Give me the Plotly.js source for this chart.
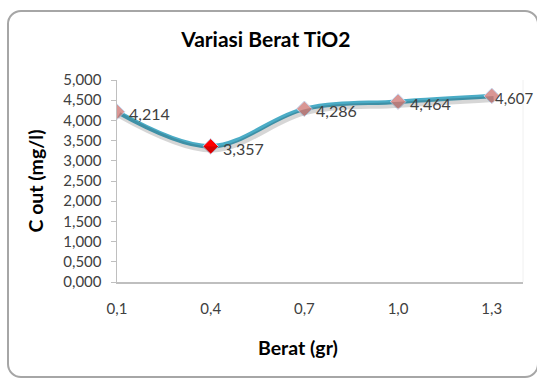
<!DOCTYPE html>
<html>
<head>
<meta charset="utf-8">
<script src="https://cdn.plot.ly/plotly-3.0.1.min.js"></script>
<style>
  html, body { margin: 0; padding: 0; background: #ffffff; }
  #wrap { position: relative; width: 537px; height: 380px; overflow: hidden; }
  #frame { position: absolute; left: 7px; top: 10px; width: 528px; height: 364px;
           border: 2px solid #a6a6a6; border-radius: 14px; }
  #chart { position: absolute; left: 0; top: 0; width: 537px; height: 380px; }
</style>
</head>
<body>
<div id="wrap">
  <div id="frame"></div>
  <div id="chart"></div>
</div>
<script>
// Data
const berat = [0.1, 0.4, 0.7, 1.0, 1.3];
const cout = [4.214, 3.357, 4.286, 4.464, 4.607];
const labels = ["4,214", "3,357", "4,286", "4,464", "4,607"];
const xTicks = [0.1, 0.4, 0.7, 1.0, 1.3];
const xTickText = ["0,1", "0,4", "0,7", "1,0", "1,3"];
const yTicks = [0, 0.5, 1, 1.5, 2, 2.5, 3, 3.5, 4, 4.5, 5];
const yTickText = ["0,000", "0,500", "1,000", "1,500", "2,000", "2,500", "3,000", "3,500", "4,000", "4,500", "5,000"];

const minIdx = cout.indexOf(Math.min(...cout));
const markerColors = cout.map((v, i) => i === minIdx ? "#ff0000" : "#d99694");

const font = "Lato, 'Open Sans', sans-serif";

const shadow = {
  x: berat, y: cout, xaxis: "x2", yaxis: "y2",
  mode: "lines", line: {shape: "spline", smoothing: 1, color: "rgba(0,0,0,0.16)", width: 6},
  hoverinfo: "skip", showlegend: false
};
const main = {
  x: berat, y: cout, mode: "lines+markers",
  line: {shape: "spline", smoothing: 1, color: "#4bacc6", width: 4.5},
  marker: {symbol: "diamond", size: 12, color: markerColors, line: {color: "#c6d9f1", width: 1}},
  showlegend: false
};

const lastIdx = berat.length - 1;
const labelAnns = berat.map((x, i) => ({
  x: x, y: cout[i], xref: "x", yref: "y", text: labels[i], showarrow: false,
  xanchor: "left", yanchor: "middle", xshift: i === lastIdx ? 2 : 11, yshift: -2,
  borderpad: 0,
  font: {family: font, size: i === lastIdx ? 15 : 16, color: "#404040"}
}));

const layout = {
  width: 537, height: 380,
  margin: {l: 117, r: 14, t: 80, b: 98},
  paper_bgcolor: "rgba(0,0,0,0)", plot_bgcolor: "rgba(0,0,0,0)",
  separators: ",.",
  showlegend: false,
  title: {text: "<b>Variasi Berat TiO2</b>", x: 0.495, xanchor: "center", y: 0.895, yanchor: "middle",
          font: {family: font, size: 21, color: "#000000"}},
  xaxis: {range: [0.1, 1.4], tickvals: xTicks, ticktext: xTickText, showgrid: false, zeroline: false,
          showline: true, linecolor: "#bfbfbf", linewidth: 1.5, ticks: "", ticklabelstandoff: 12,
          tickfont: {family: font, size: 15, color: "#404040"}},
  yaxis: {range: [0, 5], tickvals: yTicks, ticktext: yTickText, showgrid: false, zeroline: false,
          showline: true, linecolor: "#bfbfbf", linewidth: 1.5, ticks: "outside", ticklen: 5,
          tickcolor: "#bfbfbf", ticklabelstandoff: 6,
          tickfont: {family: font, size: 15, color: "#404040"},
          title: {text: "<b>C out (mg/l)</b>", standoff: 14, font: {family: font, size: 19.5, color: "#000000"}}},
  xaxis2: {overlaying: "x", range: [0.1 - 0.006, 1.4 - 0.006], visible: false},
  yaxis2: {overlaying: "y", range: [0.075, 5.075], visible: false},
  shapes: [{type: "line", xref: "paper", yref: "paper", x0: 1, x1: 1, y0: 0, y1: 1,
            line: {color: "#f0f0f0", width: 1}}],
  annotations: [{text: "<b>Berat (gr)</b>", xref: "paper", yref: "paper", x: 0.446, y: -0.322,
                 xanchor: "center", yanchor: "middle", showarrow: false,
                 font: {family: font, size: 19.5, color: "#000000"}}].concat(labelAnns)
};

Plotly.newPlot("chart", [shadow, main], layout, {displayModeBar: false, staticPlot: true});
</script>
</body>
</html>
